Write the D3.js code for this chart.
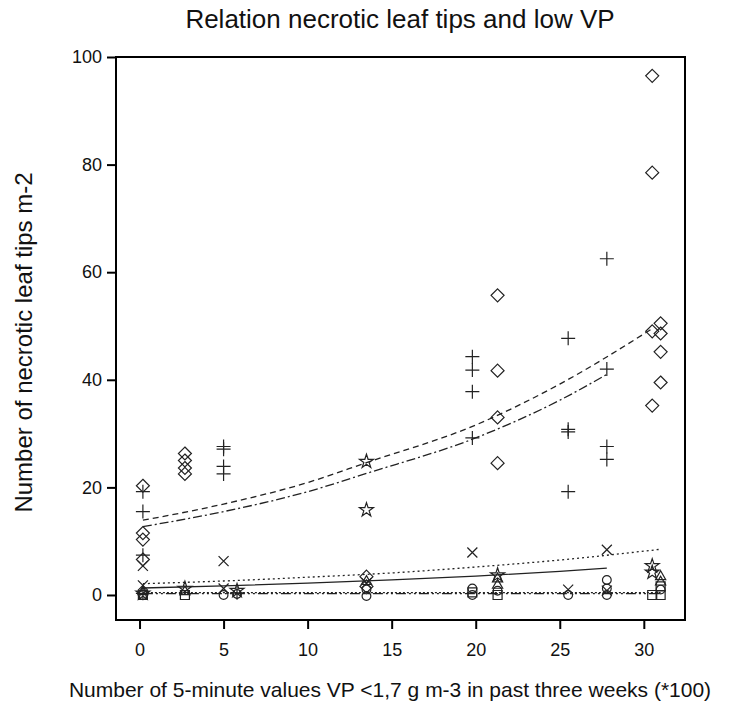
<!DOCTYPE html>
<html>
<head>
<meta charset="utf-8">
<script src="https://cdn.jsdelivr.net/npm/d3@7"></script>
<style>
  html, body { margin: 0; padding: 0; background: #fff; }
  svg { display: block; }
  text { font-family: "Liberation Sans", Arial, Helvetica, sans-serif; fill: #111; }
</style>
</head>
<body>
<svg id="chart" width="739" height="711"></svg>
<script>
// ---- Data ----
const xTicks = [0, 5, 10, 15, 20, 25, 30];
const yTicks = [0, 20, 40, 60, 80, 100];

const diamondPts = [[0.2,20.3],[0.2,11.5],[0.2,10.3],[0.2,6.6],[2.7,26.3],[2.7,25.0],[2.7,23.6],[2.7,22.5],
  [13.5,3.4],[13.5,1.6],[21.3,55.7],[21.3,41.7],[21.3,33.0],[21.3,24.5],
  [30.5,96.5],[30.5,78.5],[30.5,49.0],[30.5,35.2],[31.0,50.5],[31.0,48.6],[31.0,45.2],[31.0,39.5]];
const plusPts = [[0.2,19.2],[0.2,15.5],[0.2,7.4],[0.2,0.3],[5.0,27.6],[5.0,27.1],[5.0,23.9],[5.0,22.5],[5.8,0.4],
  [19.8,44.3],[19.8,41.8],[19.8,37.8],[19.8,29.2],[25.5,47.7],[25.5,30.8],[25.5,30.3],[25.5,19.2],
  [27.8,62.5],[27.8,42.0],[27.8,27.6],[27.8,25.2]];
const crossPts = [[0.2,5.4],[0.2,1.8],[5.0,6.3],[5.0,1.2],[13.5,2.2],[19.8,7.9],[25.5,1.0],[27.8,8.4],[27.8,0.8]];
const starPts = [[0.2,0.3],[2.7,1.2],[5.8,0.8],[13.5,24.8],[13.5,15.8],[21.3,3.7],[30.5,5.4],[30.5,4.2]];
const trianglePts = [[0.2,0.6],[2.7,0.6],[13.5,2.5],[21.3,3.0],[21.3,1.8],[31.0,3.4],[31.0,2.4]];
const circlePts = [[0.2,0.0],[5.0,0.0],[5.8,0.2],[13.5,1.0],[13.5,-0.2],[19.8,1.2],[19.8,0.0],[21.3,0.8],
  [25.5,0.0],[27.8,2.8],[27.8,1.2],[27.8,0.0],[31.0,1.0]];
const squarePts = [[0.2,0.0],[2.7,0.0],[19.8,0.5],[21.3,0.0],[30.5,0.0],[31.0,0.0],[31.0,1.6]];

// fitted curves
const fitDiamond = [[0.2,13.9],[5,16.9],[10,20.9],[13.5,24.6],[20,31.6],[25,39.2],[30.5,49.5]];
const fitPlus    = [[0.2,12.7],[5,15.5],[10,19.2],[13.5,22.6],[20,29.2],[25,36.2],[27.8,41.0]];
const fitCross   = [[0.2,2.1],[5,2.6],[10,3.3],[15,4.1],[20,5.2],[25,6.5],[31,8.5]];
const fitSolid   = [[0.2,1.3],[5,1.7],[10,2.2],[15,2.8],[20,3.5],[25,4.4],[27.8,5.0]];
const fitZeroA   = [[0.2,0.25],[31,0.25]];
const fitZeroB   = [[0.2,0.45],[31,0.45]];

const titleText = "Relation necrotic leaf tips and low VP";
const xLabel = "Number of 5-minute values VP <1,7 g m-3 in past three weeks (*100)";
const yLabel = "Number of necrotic leaf tips m-2";

// ---- Layout ----
const svg = d3.select("#chart");
const L = 116, R = 685, T = 57, B = 620;
const x = d3.scaleLinear().domain([-1.4, 32.45]).range([L, R]);
const y = d3.scaleLinear().domain([-4.65, 100]).range([B, T]);

// frame
svg.append("rect").attr("x", L).attr("y", T).attr("width", R - L).attr("height", B - T)
  .attr("fill", "none").attr("stroke", "#000").attr("stroke-width", 2);

// axes
const xAxis = d3.axisBottom(x).tickValues(xTicks).tickSize(9).tickPadding(14).tickFormat(d3.format("d"));
const yAxis = d3.axisLeft(y).tickValues(yTicks).tickSize(9).tickPadding(5).tickFormat(d3.format("d"));
const gx = svg.append("g").attr("transform", `translate(0,${B})`).call(xAxis);
const gy = svg.append("g").attr("transform", `translate(${L},0)`).call(yAxis);
[gx, gy].forEach(g => {
  g.select(".domain").remove();
  g.selectAll(".tick line").attr("stroke", "#000").attr("stroke-width", 2);
  g.selectAll(".tick text").attr("font-size", 18).attr("fill", "#111")
    .attr("font-family", "'Liberation Sans', Arial, sans-serif");
});

// fitted lines
const line = d3.line().x(d => x(d[0])).y(d => y(d[1])).curve(d3.curveMonotoneX);
const fits = [
  {d: fitDiamond, dash: "6,4"},
  {d: fitPlus, dash: "9,3,2,3"},
  {d: fitCross, dash: "2,3"},
  {d: fitSolid, dash: null},
  {d: fitZeroA, dash: "10,3,2,3,2,3"},
  {d: fitZeroB, dash: "2,2"}
];
fits.forEach(f => {
  svg.append("path").attr("d", line(f.d)).attr("fill", "none")
    .attr("stroke", "#222").attr("stroke-width", 1.3)
    .attr("stroke-dasharray", f.dash);
});

// markers
const g = svg.append("g").attr("fill", "none").attr("stroke", "#222").attr("stroke-width", 1.2);
function draw(pts, pathFn) {
  g.selectAll(null).data(pts).enter().append("path")
    .attr("transform", d => `translate(${x(d[0])},${y(d[1])})`)
    .attr("d", pathFn);
}
draw(diamondPts, () => "M0,-6.5L6.5,0L0,6.5L-6.5,0Z");
draw(plusPts, () => "M-7,0H7M0,-7V7");
draw(crossPts, () => "M-5,-5L5,5M-5,5L5,-5");
draw(starPts, () => d3.symbol().type(d3.symbolStar).size(60)());
draw(trianglePts, () => d3.symbol().type(d3.symbolTriangle).size(45)());
draw(circlePts, () => d3.symbol().type(d3.symbolCircle).size(60)());
draw(squarePts, () => "M-4.5,-4.5H4.5V4.5H-4.5Z");

// titles
svg.append("text").attr("x", 400).attr("y", 28).attr("text-anchor", "middle")
  .attr("font-size", 26).text(titleText);
svg.append("text").attr("x", 390).attr("y", 697).attr("text-anchor", "middle")
  .attr("font-size", 21).text(xLabel);
svg.append("text").attr("transform", `translate(32,${(T + B) / 2 + 4}) rotate(-90)`)
  .attr("text-anchor", "middle").attr("font-size", 24).text(yLabel);
</script>
</body>
</html>
